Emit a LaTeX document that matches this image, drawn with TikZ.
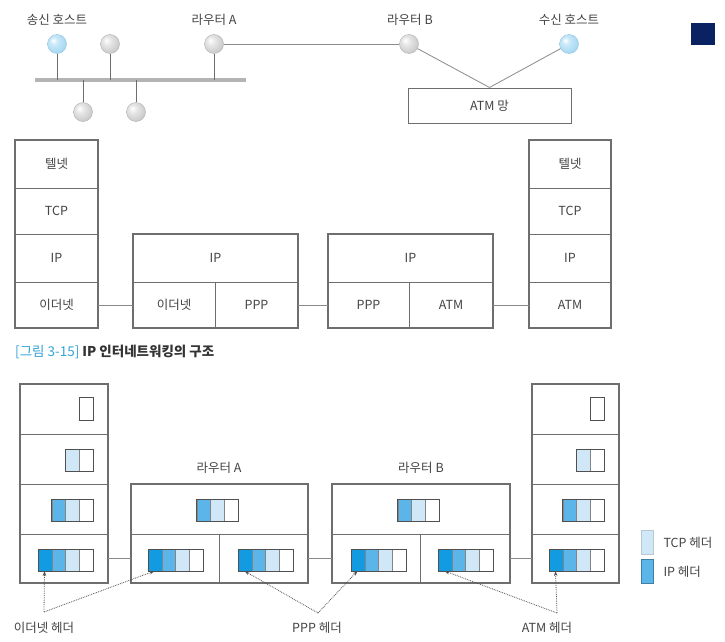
\documentclass[tikz,border=0pt]{standalone}
\usepackage{fontspec}
\setmainfont{Noto Sans CJK KR}
\usetikzlibrary{arrows.meta}

\definecolor{txt}{HTML}{444444}
\definecolor{boxc}{HTML}{6E6E6E}
\definecolor{linec}{HTML}{8A8A8A}
\definecolor{buscol}{HTML}{B4B4B4}
\definecolor{pkdark}{HTML}{129BE0}
\definecolor{pkmid}{HTML}{5CB5E8}
\definecolor{pklight}{HTML}{CFE7F6}
\definecolor{pkline}{HTML}{505050}
\definecolor{capblue}{HTML}{35A3D8}
\definecolor{capdark}{HTML}{333333}
\definecolor{navy}{HTML}{0B2262}
\definecolor{hostblue}{HTML}{9FD6F4}

% soft spheres for hosts and routers
\pgfdeclareradialshading{greyball}{\pgfpoint{-10bp}{10bp}}{%
  color(0bp)=(white); color(10bp)=(gray!18); color(32bp)=(gray!45); color(60bp)=(gray!65)}
\pgfdeclareradialshading{blueball}{\pgfpoint{-10bp}{10bp}}{%
  color(0bp)=(white); color(10bp)=(hostblue!55); color(32bp)=(hostblue); color(60bp)=(hostblue!80!gray)}

% one cell of a protocol stack: name, x1, y1, x2, y2, label
\newcommand{\cellat}[6]{%
  \node[cell, minimum width={#4-#2}, minimum height={#5-#3}]
    (#1) at ({(#2+#4)/2},{(#3+#5)/2}) {#6};}
% outer frame around a group of cells
\newcommand{\frameat}[4]{\draw[frame] (#1,#2) rectangle (#3,#4);}
% packet made of n segments, right edge x, top y; coordinate marks the first segment's bottom
\newcommand{\packet}[4]{%
  \foreach \k in {1,...,#4} {
    \ifcase\k\relax\or\def\segc{white}\or\def\segc{pklight}\or\def\segc{pkmid}\or\def\segc{pkdark}\fi
    \filldraw[fill=\segc, draw=pkline!70, line width=0.5pt]
      ({#2-\k*13.75},#3) rectangle ++(13.75,22);
  }
  \draw[draw=pkline, line width=0.9pt] ({#2-#4*13.75},#3) rectangle (#2,#3+22);
  \coordinate (#1) at ({#2-#4*13.75+6.5},#3+22);
}

\begin{document}
\begin{tikzpicture}[x=1pt, y=-1pt,
  font=\fontsize{12.5}{14}\selectfont, text=txt,
  cell/.style={draw=boxc, line width=0.6pt, inner sep=0pt, outer sep=0pt},
  frame/.style={draw=boxc, line width=1.1pt},
  link/.style={draw=linec, line width=0.8pt},
  stem/.style={draw=linec!80!black, line width=0.9pt},
  graynode/.style={circle, inner sep=0pt, minimum size=19pt, shading=greyball, draw=gray!60, line width=0.4pt},
  bluenode/.style={circle, inner sep=0pt, minimum size=19pt, shading=blueball, draw=hostblue!75!gray, line width=0.4pt},
  note/.style={densely dotted, draw=pkline, line width=0.8pt, -{Stealth[length=5pt,width=3.5pt]}},
  swatch/.style={inner sep=0pt, minimum width=12pt, minimum height=24pt, line width=0.5pt}]

\useasboundingbox (0,0) rectangle (725,642);
\fill[white] (0,0) rectangle (725,642);

% ---------- network ----------
\fill[navy] (691,23) rectangle (715,45);

\coordinate (busL) at (35,80);
\coordinate (busR) at (246,80);
\draw[buscol, line width=4pt] (busL) -- (busR);

\node[bluenode] (snd) at (57,44) {};
\node[graynode] (h2) at (110,44) {};
\node[graynode] (rtA) at (214,44) {};
\node[graynode] (rtB) at (409,44) {};
\node[bluenode] (rcv) at (569,44) {};
\node[graynode] (h3) at (83,112) {};
\node[graynode] (h4) at (136,112) {};

\draw[stem] (snd.south) -- (snd |- busL);
\draw[stem] (h2.south) -- (h2 |- busL);
\draw[stem] (rtA.south) -- (rtA |- busL);
\draw[stem] (h3.north) -- (h3 |- busL);
\draw[stem] (h4.north) -- (h4 |- busL);

\node[draw=boxc, line width=1pt, minimum width=163pt, minimum height=35pt, inner sep=0pt]
  (atm) at (489.5,105.5) {ATM 망};
\draw[link] (rtA) -- (rtB);
\draw[link] (rtB) -- (atm.north);
\draw[link] (rcv) -- (atm.north);

\node (lsnd) at (57,20) {송신 호스트};
\node (lrtA) at (214,20) {라우터 A};
\node (lrtB) at (410,20) {라우터 B};
\node (lrcv) at (569,20) {수신 호스트};

% ---------- protocol stacks ----------
\cellat{L1}{15}{140}{98}{188}{텔넷}
\cellat{L2}{15}{188}{98}{234}{TCP}
\cellat{L3}{15}{234}{98}{282}{IP}
\cellat{L4}{15}{282}{98}{328}{이더넷}
\frameat{15}{140}{98}{328}

\cellat{RAip}{133}{234}{298}{282}{IP}
\cellat{RAl}{133}{282}{215}{328}{이더넷}
\cellat{RAr}{215}{282}{298}{328}{PPP}
\frameat{133}{234}{298}{328}

\cellat{RBip}{328}{234}{493}{282}{IP}
\cellat{RBl}{328}{282}{409}{328}{PPP}
\cellat{RBr}{409}{282}{493}{328}{ATM}
\frameat{328}{234}{493}{328}

\cellat{R1}{529}{140}{611}{188}{텔넷}
\cellat{R2}{529}{188}{611}{234}{TCP}
\cellat{R3}{529}{234}{611}{282}{IP}
\cellat{R4}{529}{282}{611}{328}{ATM}
\frameat{529}{140}{611}{328}

\draw[link] (L4.east) -- (RAl.west);
\draw[link] (RAr.east) -- (RBl.west);
\draw[link] (RBr.east) -- (R4.west);

% ---------- caption ----------
\node[anchor=west, inner sep=0pt, font=\fontsize{13.5}{15}\selectfont] (cap) at (15,352)
  {\textcolor{capblue}{[그림 3-15]}\ \textcolor{capdark}{\textbf{IP 인터네트워킹의 구조}}};

% ---------- encapsulation ----------
\cellat{P1}{20}{384}{108}{434}{}
\cellat{P2}{20}{434}{108}{484}{}
\cellat{P3}{20}{484}{108}{534}{}
\cellat{P4}{20}{534}{108}{583}{}
\frameat{20}{384}{108}{583}

\cellat{QAip}{131}{484}{308}{534}{}
\cellat{QAl}{131}{534}{219}{583}{}
\cellat{QAr}{219}{534}{308}{583}{}
\frameat{131}{484}{308}{583}

\cellat{QBip}{332}{484}{510}{534}{}
\cellat{QBl}{332}{534}{420}{583}{}
\cellat{QBr}{420}{534}{510}{583}{}
\frameat{332}{484}{510}{583}

\cellat{S1}{532}{384}{619}{434}{}
\cellat{S2}{532}{434}{619}{484}{}
\cellat{S3}{532}{484}{619}{534}{}
\cellat{S4}{532}{534}{619}{583}{}
\frameat{532}{384}{619}{583}

\draw[link] (P4.east) -- (QAl.west);
\draw[link] (QAr.east) -- (QBl.west);
\draw[link] (QBr.east) -- (S4.west);

\node (tA) at (219,468) {라우터 A};
\node (tB) at (421,468) {라우터 B};

% packets
\draw[draw=pkline, line width=0.9pt] (79,397) rectangle (93,420);
\packet{pk2}{93}{449}{2}
\packet{pk3}{93}{499}{3}
\packet{pk4}{93}{549}{4}

\packet{pkAip}{238}{499}{3}
\packet{pkAl}{203}{549}{4}
\packet{pkAr}{293}{549}{4}

\packet{pkBip}{439}{499}{3}
\packet{pkBl}{406}{549}{4}
\packet{pkBr}{493}{549}{4}

\draw[draw=pkline, line width=0.9pt] (590,397) rectangle (604,420);
\packet{pr2}{604}{449}{2}
\packet{pr3}{604}{499}{3}
\packet{pr4}{604}{549}{4}

% header labels and pointers
\node (eth) at (44,628) {이더넷 헤더};
\node (ppp) at (317,628) {PPP 헤더};
\node (atmh) at (547,628) {ATM 헤더};
\coordinate (ethm) at (44,612);
\coordinate (pppm) at (318,613);
\coordinate (atmm) at (557,613);

\draw[note] (ethm) -- (pk4);
\draw[note] (ethm) -- (pkAl);
\draw[note] (pppm) -- (pkAr);
\draw[note] (pppm) -- (pkBl);
\draw[note] (atmm) -- (pkBr);
\draw[note] (atmm) -- (pr4);

% legend
\node[swatch, fill=pklight, draw=pklight!70!gray] (swT) at (647,542) {};
\node[swatch, fill=pkmid, draw=pkmid!70!black] (swI) at (647,571.5) {};
\node[anchor=west] (lgT) at (660,543) {TCP 헤더};
\node[anchor=west] (lgI) at (660,572) {IP 헤더};

\end{tikzpicture}
\end{document}
